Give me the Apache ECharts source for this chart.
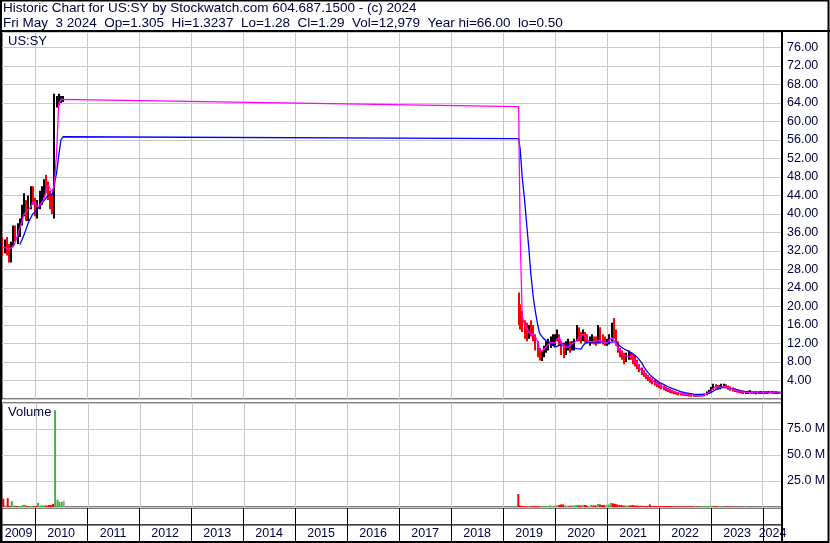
<!DOCTYPE html>
<html><head><meta charset="utf-8">
<script src="https://cdn.jsdelivr.net/npm/echarts@6/dist/echarts.min.js"></script>
<style>html,body{margin:0;padding:0;background:#fff}#c{width:830px;height:543px}</style>
</head><body><div id="c"></div>
<script>
// ---------- DATA ----------
const dates = [
'2009-05-15','2009-06-01','2009-06-15','2009-07-01','2009-07-15','2009-08-01','2009-08-15','2009-09-01','2009-09-15','2009-10-01',
'2009-10-15','2009-11-01','2009-11-15','2009-12-01','2009-12-15','2010-01-01','2010-01-15','2010-02-01','2010-02-15','2010-03-01',
'2010-03-15','2010-04-01','2010-04-15','2010-05-01','2010-05-15','2010-06-01','2010-06-15','2010-07-01','2010-07-15',
'2019-04-20','2019-05-01','2019-05-15','2019-06-01','2019-06-15','2019-07-01','2019-07-15','2019-08-01','2019-08-15','2019-09-01',
'2019-09-15','2019-10-01','2019-10-15','2019-11-01','2019-11-15','2019-12-01','2019-12-15','2020-01-01','2020-01-15','2020-02-01',
'2020-02-15','2020-03-01','2020-03-15','2020-04-01','2020-04-15','2020-05-01','2020-05-15','2020-06-01','2020-06-15','2020-07-01',
'2020-07-15','2020-08-01','2020-08-15','2020-09-01','2020-09-15','2020-10-01','2020-10-15','2020-11-01','2020-11-15','2020-12-01',
'2020-12-15','2021-01-01','2021-01-15','2021-02-01','2021-02-15','2021-03-01','2021-03-15','2021-04-01','2021-04-15','2021-05-01',
'2021-05-15','2021-06-01','2021-06-15','2021-07-01','2021-07-15','2021-08-01','2021-08-15','2021-09-01','2021-09-15','2021-10-01',
'2021-10-15','2021-11-01','2021-11-15','2021-12-01','2021-12-15','2022-01-01','2022-01-15','2022-02-01','2022-02-15','2022-03-01',
'2022-03-15','2022-04-01','2022-04-15','2022-05-01','2022-05-15','2022-06-01','2022-06-15','2022-07-01','2022-07-15','2022-08-01',
'2022-08-15','2022-09-01','2022-09-15','2022-10-01','2022-10-15','2022-11-01','2022-11-15','2022-12-01','2022-12-15','2023-01-01',
'2023-01-15','2023-02-01','2023-02-15','2023-03-01','2023-03-15','2023-04-01','2023-04-15','2023-05-01','2023-05-15','2023-06-01',
'2023-06-15','2023-07-01','2023-07-15','2023-08-01','2023-08-15','2023-09-01','2023-09-15','2023-10-01','2023-10-15','2023-11-01',
'2023-11-15','2023-12-01','2023-12-15','2024-01-01','2024-01-15','2024-02-01','2024-02-15','2024-03-01','2024-03-15','2024-04-01',
'2024-04-15','2024-05-03'
];
const high = [
35,34.5,35,33.5,34,37.5,37.5,38,39,42,44.5,43,44,46,46,43.5,43,45,46,47.5,48.5,47,45,44.5,66,65.5,66,65.5,65.5,
23,20.5,19,17,16.5,16,17,16,14,12.5,
11,10.5,11.5,12.5,13,13.5,14,14,15,14,
12.5,12,12.5,13,12.5,12.5,13,16,15.5,14.5,
15,14.5,14,13.5,14,13.5,13.5,16,15.5,14,
13.5,13,14,16.5,17.5,15,12.5,11,10.5,10,
10,10.5,10,9.8,9.5,8.5,7.5,6.8,6.2,5.6,
5.2,4.8,4.5,4.1,3.8,3.5,3.2,2.9,2.7,2.4,
2.2,2.0,1.8,1.6,1.5,1.4,1.3,1.25,1.2,1.1,
1.05,1.0,1.0,0.95,0.9,1.0,1.2,1.6,2.0,2.6,
3.3,3.2,3.0,3.0,3.3,3.3,3.2,2.9,2.7,2.5,
2.3,2.1,2.0,1.9,1.8,1.7,1.8,1.9,1.7,1.6,
1.6,1.6,1.7,1.6,1.6,1.6,1.7,1.7,1.6,1.6,
1.5,1.3237
];
const low = [
31,31.5,31,29.5,29.5,33,34,33.5,35,37.5,39.5,38.5,38.5,41,42,39.5,39,41,42,43.5,44.5,43,41,40,39,63,63.5,64,64.2,
16,15,14.5,13,12.5,13,13.5,12.5,10.5,9,
8.3,8.2,9,10,10.5,11,11.5,11.5,12.5,11.5,
9.5,8.8,9.5,10.5,10,10.5,10.5,12.5,12.5,12,
12.5,12.2,12,11.5,12,11.8,11.5,12,12,11.8,
11.5,11.5,11.8,12.5,13,11.5,10,9,8.5,7.5,
8,8.5,8.5,7.5,7,6.5,5.8,5.2,4.8,4.3,
3.9,3.5,3.2,2.9,2.6,2.3,2.1,1.9,1.7,1.5,
1.3,1.2,1.0,0.9,0.8,0.75,0.7,0.65,0.6,0.55,
0.5,0.5,0.5,0.5,0.5,0.55,0.6,0.8,1.1,1.4,
2.0,2.2,2.0,2.1,2.3,2.4,2.3,2.0,1.8,1.6,
1.5,1.4,1.3,1.2,1.1,1.1,1.1,1.2,1.1,1.1,
1.0,1.1,1.1,1.1,1.1,1.1,1.2,1.2,1.1,1.1,
1.1,1.28
];
const close = [
33,33,32,30.5,33,36,35,36.5,38,40.5,42,40,41,44.5,43.5,41,41.5,43.5,45,46.5,46,44,42,41.5,63,64,65,65.2,65.2,
18,17,16,14,13.5,15,14.5,13,11,9.5,
8.8,9,10.5,11.5,12,12.5,12.5,13,13.5,12,
10.5,10,11.5,11.5,11,11.5,12,14,13.5,13,
14,13,12.5,12.5,13,12.5,12,14,13,12.5,
12,12,12.5,15,14,12,10.5,9.5,9,8.5,
9,9.5,9.2,8.5,7.5,7,6.2,5.8,5.2,4.8,
4.4,4,3.6,3.3,3,2.7,2.5,2.2,2,1.8,
1.6,1.5,1.3,1.2,1.1,1.0,0.95,0.9,0.85,0.8,
0.75,0.7,0.7,0.65,0.6,0.7,0.9,1.2,1.6,2.2,
2.8,2.6,2.4,2.6,2.8,2.9,2.7,2.4,2.2,2.0,
1.8,1.7,1.6,1.5,1.4,1.4,1.4,1.5,1.4,1.3,
1.3,1.3,1.4,1.3,1.3,1.3,1.4,1.4,1.3,1.3,
1.3,1.29
];
const maShort = [
32.8,32.8,32.5,32.3,32.2,33,34,35.5,37,38.5,40,40.5,41,41.5,42.5,42.5,41.6,41.8,42.5,43,44.5,46.4,45.5,44.9,46,53.5,63.7,64.8,64.8,
63.2,35,18,16,15.5,14.5,14,14,13.5,12.5,
10.5,10.3,10.8,11.3,11.8,12.2,12.3,12.2,13,13.3,
12,11.2,11.1,11.2,11.3,12,12.2,12.6,13.3,13.5,
14,13.5,12.8,12.4,12.5,12.4,12.3,12.6,12.8,12.4,
12.2,12.1,12.4,13.3,13.6,12.2,11.1,10.7,10.1,9.4,
9.2,9.2,9.2,9,8.3,7.4,6.8,6.1,5.6,5.1,
4.7,4.3,4,3.6,3.3,3.0,2.8,2.5,2.3,2.1,
1.9,1.7,1.55,1.4,1.3,1.2,1.1,1.0,0.95,0.9,
0.85,0.8,0.78,0.75,0.72,0.75,0.85,1.1,1.4,1.8,
2.3,2.6,2.6,2.5,2.6,2.7,2.7,2.5,2.3,2.1,
1.9,1.8,1.7,1.6,1.5,1.45,1.42,1.45,1.42,1.38,
1.35,1.33,1.35,1.35,1.33,1.32,1.35,1.38,1.35,1.33,
1.31,1.3
];
const maLong = [
null,null,null,null,null,null,null,null,33.4,34.5,35.5,37,38.2,39.2,40,40.5,41,41.6,42.2,42.8,43.3,44,44.2,44.2,44.5,49,52.5,56,56.7,
56.3,54,48,43,38,32.5,27,22,19,16,
14.2,13.5,13,12.6,12.3,12.2,11.8,11.2,11.2,11.6,
11.9,12.1,12.2,11.8,11.3,11.1,11.0,10.9,10.7,10.8,
11.5,12.1,12.4,12.4,12.4,12.3,12.3,12.2,12.3,12.4,
12.3,12.2,12.2,12.3,12.4,12.4,12.2,11.4,11.1,10.8,
10.5,10.3,10.1,9.8,9.4,9.0,8.6,7.8,7.0,6.3,
5.7,5.1,4.7,4.3,3.9,3.6,3.35,3.15,2.95,2.7,
2.5,2.3,2.1,1.95,1.8,1.6,1.5,1.4,1.3,1.2,
1.1,1.05,1.0,1.0,1.0,1.0,1.0,1.05,1.2,1.4,
1.7,2.0,2.2,2.35,2.45,2.5,2.5,2.45,2.35,2.2,
2.1,2.0,1.9,1.75,1.65,1.6,1.55,1.5,1.5,1.5,
1.5,1.5,1.5,1.5,1.5,1.5,1.5,1.5,1.5,1.5,
1.5,1.5
];
// volume in millions
const volume = [
8,1.5,8.5,1,5.5,1.5,1,1,1,2,2,1,1,1,1,1,4,1.5,1.5,1.5,1.5,2,2,3,93,7,5,5,6,
12.5,1.5,1,0.8,1,0.8,1,0.8,0.8,0.8,
0.8,0.8,0.8,0.8,0.8,1.5,1.2,1.2,1.5,2,
2.5,2.5,1.5,1.2,1.2,1.5,1.5,2,1.5,1.5,
2,2,1.5,1.2,2,1.5,1.5,3,2.5,2,
2,2,2.5,4,3.5,3,2.5,2,2,1.5,
1.5,1.5,1.5,2,1.5,1.5,1.2,1.2,1,1,
1,2.5,1,1,0.8,0.8,1,0.8,0.8,1,
0.8,0.8,0.6,0.6,0.6,0.6,0.6,0.5,0.5,0.5,
0.5,0.5,0.5,0.5,0.5,0.5,0.6,0.6,0.8,1,
1.2,0.8,0.6,0.5,0.6,0.6,0.5,0.4,0.3,0.3,
0.3,0.2,0.2,0.2,0.2,0.2,0.2,0.2,0.2,0.2,
0.2,0.2,0.2,0.2,0.2,0.2,0.2,0.2,0.2,0.2,
0.2,0.013
];
const years = [2009,2010,2011,2012,2013,2014,2015,2016,2017,2018,2019,2020,2021,2022,2023,2024];
const X_MIN = '2009-05-13';
const X_MAX = '2024-05-13';
const PRICE_MAX = 79.35, PRICE_STEP = 4;
const VOL_MAX = 100, VOL_STEP = 25;
const symbol = 'US:SY';
const title1 = 'Historic Chart for US:SY by Stockwatch.com 604.687.1500 - (c) 2024';
const title2 = 'Fri May  3 2024  Op=1.305  Hi=1.3237  Lo=1.28  Cl=1.29  Vol=12,979  Year hi=66.00  lo=0.50';

// ---------- BUILD ----------
function toTime(s){const p=s.split('-').map(Number);return new Date(p[0],p[1]-1,p[2]).getTime();}
const tMin = toTime(X_MIN), tMax = toTime(X_MAX);
const dir = close.map((c,i)=> i===0 ? -1 : Math.sign(c - close[i-1]));
const priceData = dates.map((d,i)=>[toTime(d), low[i], high[i], dir[i]]);
const shortData = dates.map((d,i)=>[toTime(d), maShort[i]]);
const longData = dates.map((d,i)=>[toTime(d), maLong[i]]);
const volData = dates.map((d,i)=>({value:[toTime(d), volume[i]], itemStyle:{color: dir[i]>0 ? '#48b048' : (dir[i]<0 ? '#ff0000' : '#a0a0a0')}}));
const yearStarts = years.slice(1).map(y=>[new Date(y,0,1).getTime(), 0]);
const yearLabelData = years.map(y=>[new Date(y,0,1).getTime(), y]);

const TXT = '#000040';
const FONT = '"Liberation Sans", Arial, sans-serif';
const GRIDC = '#c8c8c8';
const L = 2, W = 780;
const grids = [
  {left:L, top:32, width:W, height:367},
  {left:L, top:403, width:W, height:104},
  {left:L, top:508, width:W, height:17},
  {left:L, top:525, width:W, height:17}
].map(g=>Object.assign(g,{show:true, borderColor:'#000', borderWidth:1, backgroundColor:'#fff'}));

const xAxes = [0,1,2,3].map(i=>({type:'time', gridIndex:i, min:tMin, max:tMax, show:false}));
const yAxes = [
  {type:'value', gridIndex:0, position:'right', min:0, max:PRICE_MAX, interval:PRICE_STEP,
   axisLine:{show:false}, axisTick:{show:false},
   splitLine:{show:true, lineStyle:{color:GRIDC, width:1}},
   axisLabel:{margin:5, color:TXT, fontSize:12.5, fontFamily:FONT,
     formatter:v=> (v>0 && v<=76.001) ? v.toFixed(2) : ''}},
  {type:'value', gridIndex:1, position:'right', min:0, max:VOL_MAX, interval:VOL_STEP,
   axisLine:{show:false}, axisTick:{show:false},
   splitLine:{show:true, lineStyle:{color:GRIDC, width:1}},
   axisLabel:{margin:5, color:TXT, fontSize:12.5, fontFamily:FONT,
     formatter:v=> (v>0 && v<VOL_MAX) ? v.toFixed(1)+' M' : ''}},
  {type:'value', gridIndex:2, min:0, max:1, show:false},
  {type:'value', gridIndex:3, min:0, max:1, show:false}
];

function yearLineSeries(idx, color){
  return {type:'custom', xAxisIndex:idx, yAxisIndex:idx, data:yearStarts, z:1, silent:true,
    renderItem:(params, api)=>{
      const cs = params.coordSys;
      const x = Math.round(api.coord([api.value(0), 0])[0]) + 0.5;
      return {type:'line', shape:{x1:x, y1:cs.y, x2:x, y2:cs.y+cs.height},
        style:{stroke:color, lineWidth:1}};
    }};
}

const option = {
  animation:false,
  backgroundColor:'#fff',
  grid: grids,
  xAxis: xAxes,
  yAxis: yAxes,
  series: [
    yearLineSeries(0, GRIDC),
    yearLineSeries(1, GRIDC),
    yearLineSeries(2, '#000'),
    yearLineSeries(3, '#000'),
    {type:'custom', name:'price', xAxisIndex:0, yAxisIndex:0, data:priceData, z:3, clip:true,
     encode:{x:0, y:[1,2]},
     renderItem:(params, api)=>{
       const pl = api.coord([api.value(0), api.value(1)]);
       const ph = api.coord([api.value(0), api.value(2)]);
       const x = Math.round(pl[0]) - 1;
       const h = Math.max(1, pl[1]-ph[1]);
       return {type:'rect', shape:{x:x, y:ph[1], width:2, height:h},
         style:{fill: api.value(3) < 0 ? '#ff0000' : '#000000'}};
     }},
    {type:'line', name:'ma short', xAxisIndex:0, yAxisIndex:0, data:shortData, showSymbol:false, z:5,
     lineStyle:{color:'#ff00ff', width:1.3}, connectNulls:false},
    {type:'line', name:'ma long', xAxisIndex:0, yAxisIndex:0, data:longData, showSymbol:false, z:4,
     lineStyle:{color:'#0000ff', width:1.3}, connectNulls:false},
    {type:'bar', name:'volume', xAxisIndex:1, yAxisIndex:1, data:volData, barWidth:2, z:3},
    {type:'custom', name:'years', xAxisIndex:3, yAxisIndex:3, data:yearLabelData, z:5, silent:true,
     renderItem:(params, api)=>{
       const cs = params.coordSys;
       const y = api.value(1);
       const s = Math.max(new Date(y,0,1).getTime(), tMin);
       const e = Math.min(new Date(y+1,0,1).getTime(), tMax);
       const x = (api.coord([s,0])[0] + api.coord([e,0])[0]) / 2;
       return {type:'text', style:{text:String(y), x:x, y:cs.y+cs.height/2+0.5,
         align:'center', verticalAlign:'middle', font:'12.5px '+FONT, fill:TXT}};
     }}
  ],
  graphic: [
    {type:'text', left:3, top:1, z:10, style:{text:title1, font:'13.5px '+FONT, fill:TXT}},
    {type:'text', left:3, top:16, z:10, style:{text:title2, font:'13.5px '+FONT, fill:TXT}},
    {type:'text', left:8, top:35, z:10, style:{text:symbol, font:'13px '+FONT, fill:TXT}},
    {type:'text', left:8, top:406, z:10, style:{text:'Volume', font:'13px '+FONT, fill:TXT}},
    {type:'line', z:10, shape:{x1:0, y1:31, x2:830, y2:31}, style:{stroke:'#000', lineWidth:2}},
    {type:'line', z:10, shape:{x1:782, y1:31, x2:782, y2:543}, style:{stroke:'#000', lineWidth:2}},
    {type:'rect', z:10, shape:{x:1, y:0.5, width:827.5, height:541.5}, style:{fill:null, stroke:'#000', lineWidth:2}}
  ]
};
const chart = echarts.init(document.getElementById('c'), null, {renderer:'canvas'});
chart.setOption(option);
</script>
</body></html>
